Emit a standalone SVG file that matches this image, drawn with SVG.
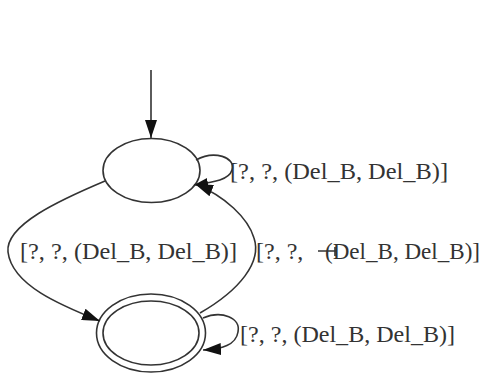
<svg xmlns="http://www.w3.org/2000/svg" width="486" height="375" viewBox="0 0 486 375">
<style>
.node{fill:none;stroke:#333;stroke-width:1.6}
.edge{fill:none;stroke:#333;stroke-width:1.6}
.lbl{font-family:"Liberation Serif","Times New Roman",serif;font-size:24px;fill:#333}
</style>
<defs>
<marker id="ah" markerUnits="userSpaceOnUse" markerWidth="20" markerHeight="12" refX="18" refY="6" orient="auto">
<path d="M0,0 L18,6 L0,12 z" fill="#111"/>
</marker>
<marker id="ahs" markerUnits="userSpaceOnUse" markerWidth="16" markerHeight="10" refX="14" refY="5" orient="auto">
<path d="M0,0 L14,5 L0,10 z" fill="#111"/>
</marker>
</defs>
<rect width="486" height="375" fill="#fff"/>
<g id="s0">
<ellipse class="node" cx="151.5" cy="170.5" rx="48.5" ry="32"/>
</g>
<g id="s1">
<ellipse class="node" cx="151" cy="333" rx="54.5" ry="39"/>
<ellipse class="node" cx="151" cy="333" rx="48" ry="32"/>
</g>
<g id="edges">
<path class="edge" d="M151,70 L151,138" marker-end="url(#ah)"/>
<path class="edge" d="M196,160 C214,150 236,157 232,170 C229,180 214,182 194,185" marker-end="url(#ahs)"/>
<path class="edge" d="M105,181 C60,200 5,225 8,252 C12,285 60,305 100,321" marker-end="url(#ah)"/>
<path class="edge" d="M200,313 C240,290 262,262 254,238 C248,218 225,196 195,184" marker-end="url(#ah)"/>
<path class="edge" d="M203,318 C222,310 241,318 238,332 C236,345 222,349 203,350" marker-end="url(#ah)"/>
<path class="edge" d="M318,251 L336,251 M335,247 L335,256"/>
</g>
<g id="labels">
<text class="lbl" x="230" y="179" textLength="218" lengthAdjust="spacingAndGlyphs">[?, ?, (Del_B, Del_B)]</text>
<text class="lbl" x="20" y="259" textLength="217" lengthAdjust="spacingAndGlyphs">[?, ?, (Del_B, Del_B)]</text>
<text class="lbl" x="256" y="259">[?, ?,</text>
<text class="lbl" x="325" y="259" textLength="155" lengthAdjust="spacingAndGlyphs">(Del_B, Del_B)]</text>
<text class="lbl" x="240" y="342" textLength="215" lengthAdjust="spacingAndGlyphs">[?, ?, (Del_B, Del_B)]</text>
</g>
</svg>
